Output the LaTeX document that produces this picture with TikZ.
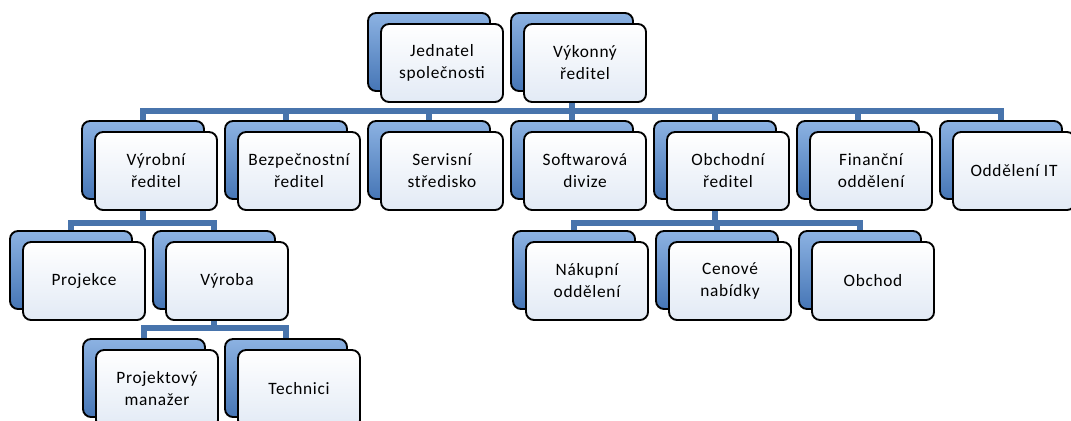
\documentclass[tikz,border=0pt]{standalone}
\usepackage{fontspec}
\setmainfont{Carlito}[LetterSpace=4]
\usetikzlibrary{backgrounds}
\definecolor{orgModra}{RGB}{70,118,182}
\definecolor{orgModraSvetla}{RGB}{140,178,226}
\definecolor{orgSpoj}{RGB}{72,116,172}
\definecolor{orgPlocha}{RGB}{226,234,245}
\tikzset{
  org/zadni/.style={rectangle, rounded corners=6pt, draw=black, line width=1.4pt,
    top color=orgModraSvetla, bottom color=orgModra,
    minimum width=91.5pt, minimum height=58.5pt},
  org/predni/.style={rectangle, rounded corners=6pt, draw=black, line width=1.4pt,
    top color=white, bottom color=orgPlocha,
    minimum width=91.5pt, minimum height=58.5pt, inner sep=1pt,
    font=\fontsize{13}{16.5}\selectfont, align=center, text=black},
  org/spoj/.style={draw=orgSpoj, line width=4.2pt}
}

\begin{document}
\begin{tikzpicture}[x=0.75pt, y=-0.75pt]
  \useasboundingbox (0,0) rectangle (1071,421);

  % horni uroven
  \node[org/zadni]  at (429, 52)  (jednatelB) {};
  \node[org/predni] at (442, 63)  (jednatel)  {Jednatel\\společnosti};
  \node[org/zadni]  at (572, 52)  (vykonnyB)  {};
  \node[org/predni] at (585, 63)  (vykonny)   {Výkonný\\ředitel};

  % druha uroven
  \node[org/zadni]  at (143, 160)  (vyrobniB) {};
  \node[org/predni] at (156, 171)  (vyrobni)  {Výrobní\\ředitel};
  \node[org/zadni]  at (286, 160)  (bezpecB)  {};
  \node[org/predni] at (299, 171)  (bezpec)   {Bezpečnostní\\ředitel};
  \node[org/zadni]  at (429, 160)  (servisB)  {};
  \node[org/predni] at (442, 171)  (servis)   {Servisní\\středisko};
  \node[org/zadni]  at (572, 160)  (softB)    {};
  \node[org/predni] at (585, 171)  (soft)     {Softwarová\\divize};
  \node[org/zadni]  at (715, 160)  (obchodniB) {};
  \node[org/predni] at (728, 171)  (obchodni)  {Obchodní\\ředitel};
  \node[org/zadni]  at (858, 160)  (financniB) {};
  \node[org/predni] at (871, 171)  (financni)  {Finanční\\oddělení};
  \node[org/zadni]  at (1001, 160) (itB)      {};
  \node[org/predni] at (1014, 171) (it)       {Oddělení IT};

  % treti uroven
  \node[org/zadni]  at (71, 270)  (projekceB) {};
  \node[org/predni] at (84, 281)  (projekce)  {Projekce};
  \node[org/zadni]  at (214, 270) (vyrobaB)   {};
  \node[org/predni] at (227, 281) (vyroba)    {Výroba};
  \node[org/zadni]  at (574, 270) (nakupB)    {};
  \node[org/predni] at (587, 281) (nakup)     {Nákupní\\oddělení};
  \node[org/zadni]  at (717, 270) (cenoveB)   {};
  \node[org/predni] at (730, 281) (cenove)    {Cenové\\nabídky};
  \node[org/zadni]  at (860, 270) (obchodB)   {};
  \node[org/predni] at (873, 281) (obchod)    {Obchod};

  % ctvrta uroven
  \node[org/zadni]  at (144, 378) (manazerB)  {};
  \node[org/predni] at (157, 389) (manazer)   {Projektový\\manažer};
  \node[org/zadni]  at (286, 378) (techniciB) {};
  \node[org/predni] at (299, 389) (technici)  {Technici};

  \coordinate (hl1) at (0, 111);
  \coordinate (hl2) at (0, 223);
  \coordinate (hl3) at (0, 328);

  \begin{scope}[on background layer]
    \draw[org/spoj] (vykonnyB.south) -- (vykonnyB.south |- hl1) -| (vyrobniB.north);
    \draw[org/spoj] (vykonnyB.south) -- (vykonnyB.south |- hl1) -| (bezpecB.north);
    \draw[org/spoj] (vykonnyB.south) -- (vykonnyB.south |- hl1) -| (servisB.north);
    \draw[org/spoj] (vykonnyB.south) -- (softB.north);
    \draw[org/spoj] (vykonnyB.south) -- (vykonnyB.south |- hl1) -| (obchodniB.north);
    \draw[org/spoj] (vykonnyB.south) -- (vykonnyB.south |- hl1) -| (financniB.north);
    \draw[org/spoj] (vykonnyB.south) -- (vykonnyB.south |- hl1) -| (itB.north);
    \draw[org/spoj] (vyrobniB.south) -- (vyrobniB.south |- hl2) -| (projekceB.north);
    \draw[org/spoj] (vyrobniB.south) -- (vyrobniB.south |- hl2) -| (vyrobaB.north);
    \draw[org/spoj] (obchodniB.south) -- (obchodniB.south |- hl2) -| (nakupB.north);
    \draw[org/spoj] (obchodniB.south) -- (obchodniB.south |- hl2) -| (cenoveB.north);
    \draw[org/spoj] (obchodniB.south) -- (obchodniB.south |- hl2) -| (obchodB.north);
    \draw[org/spoj] (vyrobaB.south) -- (vyrobaB.south |- hl3) -| (manazerB.north);
    \draw[org/spoj] (vyrobaB.south) -- (vyrobaB.south |- hl3) -| (techniciB.north);
  \end{scope}
\end{tikzpicture}
\end{document}
